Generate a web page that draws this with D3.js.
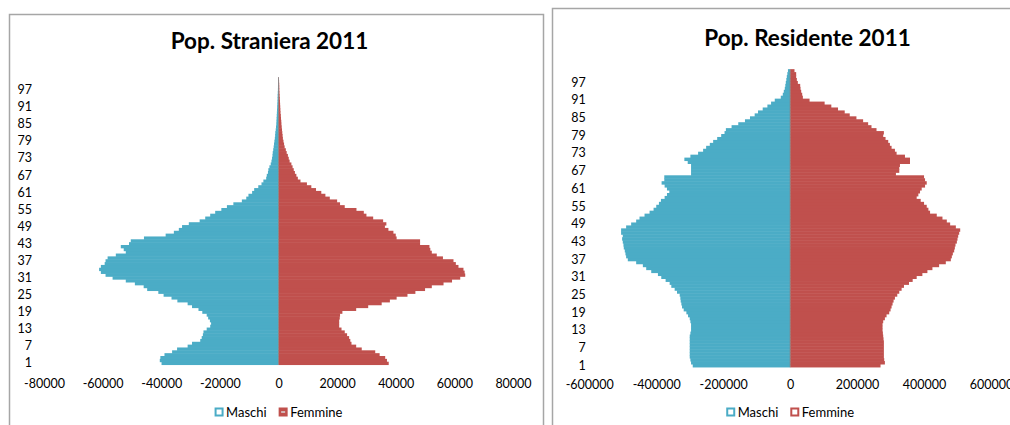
<!DOCTYPE html>
<html>
<head>
<meta charset="utf-8">
<script src="https://cdnjs.cloudflare.com/ajax/libs/d3/7.8.5/d3.min.js"></script>
<style>
body { margin: 0; background: #fff; }
svg { display: block; font-family: Lato, "Open Sans", sans-serif; }
</style>
</head>
<body>
<svg id="chart" width="1010" height="425"></svg>
<script>
// age classes 1..101, labels every 6
var ages = d3.range(1, 102);
var ageLabels = [1, 7, 13, 19, 25, 31, 37, 43, 49, 55, 61, 67, 73, 79, 85, 91, 97];
var seriesNames = ["Maschi", "Femmine"];
var colors = ["#4BACC6", "#C0504D"];

var straTicks = [-80000, -60000, -40000, -20000, 0, 20000, 40000, 60000, 80000];
var resTicks = [-600000, -400000, -200000, 0, 200000, 400000, 600000];

// Pop. Straniera 2011 (ages 1..101)
var straMaschi = [39900, 40500, 40300, 38900, 36300, 34600, 31000, 29500, 26700, 26200,
    25800, 25600, 24500, 23300, 23000, 23400, 24000, 24500, 26000, 27300,
    29500, 31000, 34500, 36500, 39200, 41000, 44800, 46000, 49000, 52100,
    56600, 59000, 60600, 61200, 60600, 59300, 59000, 58300, 55500, 52100,
    52800, 53800, 51000, 50400, 45900, 38500, 35700, 34000, 32900, 30600,
    26900, 25000, 23300, 21600, 19500, 17600, 15400, 12500, 11000, 10250,
    9000, 8300, 6900, 5800, 5160, 4200, 4000, 3600, 3460, 3100,
    2650, 2400, 2200, 2050, 1970, 1800, 1650, 1530, 1400, 1250,
    1150, 1090, 950, 850, 750, 700, 650, 600, 550, 500,
    450, 400, 350, 320, 300, 250, 200, 180, 150, 120,
    100];
var straFemmine = [37600, 37000, 36400, 34500, 33000, 28400, 26500, 24900, 24500, 24100,
    23400, 22600, 21500, 20700, 20700, 20700, 20900, 21000, 21800, 26500,
    30600, 35200, 38000, 40300, 44000, 46700, 50000, 52300, 56300, 59200,
    62000, 63700, 63500, 63100, 61400, 60500, 59700, 56100, 54000, 52300,
    51800, 51500, 48300, 48300, 40300, 40000, 39200, 37500, 36300, 36800,
    35700, 32300, 30000, 29100, 26600, 22600, 21000, 20000, 17500, 16000,
    14600, 12800, 11200, 9700, 7500, 6600, 6100, 5600, 5200, 4800,
    4400, 3800, 3500, 3200, 2800, 2500, 2100, 1900, 1700, 1500,
    1400, 1300, 1200, 1100, 1000, 950, 850, 800, 700, 650,
    600, 550, 500, 450, 400, 350, 300, 280, 250, 200,
    150];

// Pop. Residente 2011 (ages 1..101)
var resMaschi = [291000, 296000, 298000, 300000, 300000, 300000, 300000, 300000, 300000, 300000,
    300000, 298000, 296000, 296000, 296000, 298000, 300000, 305000, 310000, 318000,
    323000, 325000, 327000, 328000, 330000, 338000, 345000, 355000, 360000, 372000,
    385000, 395000, 415000, 430000, 440000, 460000, 485000, 490000, 492000, 494000,
    497000, 498000, 500000, 502000, 500000, 505000, 505000, 490000, 475000, 460000,
    450000, 435000, 420000, 408000, 400000, 392000, 386000, 375000, 368000, 361000,
    368000, 375000, 384000, 376000, 376000, 296000, 296000, 296000, 296000, 306000,
    316000, 298000, 275000, 260000, 251000, 240000, 230000, 218000, 206000, 196000,
    192000, 175000, 155000, 135000, 120000, 106000, 96000, 82000, 68000, 57000,
    46000, 28000, 22000, 19000, 16000, 14400, 13000, 11400, 10000, 8400,
    6600];
var resFemmine = [270000, 283000, 281000, 280000, 280000, 280000, 280000, 280000, 280000, 279000,
    278000, 277000, 276000, 276000, 276000, 278000, 283000, 288000, 296000, 300000,
    303000, 306000, 309000, 313000, 320000, 326000, 333000, 340000, 355000, 366000,
    378000, 395000, 410000, 425000, 445000, 465000, 480000, 483000, 486000, 490000,
    492000, 494000, 498000, 500000, 502000, 505000, 508000, 495000, 478000, 468000,
    455000, 438000, 418000, 413000, 408000, 400000, 390000, 378000, 383000, 388000,
    393000, 403000, 408000, 403000, 400000, 316000, 326000, 326000, 328000, 358000,
    358000, 343000, 318000, 313000, 303000, 298000, 293000, 285000, 278000, 280000,
    258000, 243000, 233000, 218000, 198000, 178000, 163000, 143000, 123000, 103000,
    58000, 38000, 36000, 33000, 31000, 30000, 23000, 20000, 18000, 18000,
    13000];

var svg = d3.select("#chart");

drawPyramid = function(cfg) {
    var g = svg.append("g");

    // chart frame (runs off the picture at the bottom)
    g.append("rect")
        .attr("x", cfg.frame[0])
        .attr("y", cfg.frame[1])
        .attr("width", cfg.frame[2])
        .attr("height", cfg.frame[3])
        .style("fill", "#fff")
        .style("stroke", "#a6a6a6")
        .style("stroke-width", 1.5);

    var x = d3.scaleLinear()
        .domain(cfg.domain)
        .range([cfg.left, cfg.right]);

    var y = d3.scaleBand()
        .domain(ages)
        .range([cfg.bottom, cfg.top])
        .paddingInner(0);

    // bars overlap a hair so no white seams show between ages
    var barH = y.bandwidth() + 0.5;

    g.append("text")
        .attr("x", cfg.titleX)
        .attr("y", cfg.titleY)
        .attr("text-anchor", "middle")
        .style("font-size", "22.5px")
        .style("font-weight", "bold")
        .text(cfg.title);

    g.selectAll("rect.maschi")
        .data(cfg.males).enter()
        .append("rect")
        .attr("class", "maschi")
        .attr("x", function(d) { return x(-d) })
        .attr("y", function(d, i) { return y(ages[i]) - 0.25 })
        .attr("width", function(d) { return x(0) - x(-d) })
        .attr("height", barH)
        .style("fill", colors[0]);

    g.selectAll("rect.femmine")
        .data(cfg.females).enter()
        .append("rect")
        .attr("class", "femmine")
        .attr("x", x(0))
        .attr("y", function(d, i) { return y(ages[i]) - 0.25 })
        .attr("width", function(d) { return x(d) - x(0) })
        .attr("height", barH)
        .style("fill", colors[1]);

    // category axis sits on the zero value
    g.append("line")
        .attr("x1", x(0)).attr("x2", x(0))
        .attr("y1", cfg.top).attr("y2", cfg.bottom)
        .style("stroke", "#868686")
        .style("stroke-width", 1)
        .style("opacity", 0.8);

    var xAxis = d3.axisBottom(x)
        .tickValues(cfg.ticks)
        .tickSize(0)
        .tickPadding(cfg.xPad)
        .tickFormat(function(d) { return String(d) });

    g.append("g")
        .attr("transform", "translate(0," + cfg.bottom + ")")
        .call(xAxis)
        .attr("font-family", null)
        .attr("font-size", 12.5)
        .call(function(a) { a.select(".domain").remove() });

    var yAxis = d3.axisLeft(y)
        .tickValues(ageLabels)
        .tickSize(0)
        .tickPadding(cfg.yPad);

    g.append("g")
        .attr("transform", "translate(" + cfg.left + ",0)")
        .call(yAxis)
        .attr("font-family", null)
        .attr("font-size", 12.5)
        .call(function(a) { a.select(".domain").remove() });

    // legend, centred on the zero line
    var leg = g.append("g");
    var cx = 0;
    seriesNames.forEach(function(name, i) {
        var item = leg.append("g").attr("transform", "translate(" + cx + ",0)");
        if (cfg.markers[i] == "hollow") {
            item.append("rect")
                .attr("x", 1).attr("y", -3.5)
                .attr("width", 7).attr("height", 7)
                .style("fill", "#fff")
                .style("stroke", colors[i])
                .style("stroke-width", 2);
        } else {
            item.append("rect")
                .attr("x", 0).attr("y", -4.5)
                .attr("width", 9).attr("height", 9)
                .style("fill", colors[i]);
            item.append("line")
                .attr("x1", 2.5).attr("x2", 6.5)
                .attr("y1", 0).attr("y2", 0)
                .style("stroke", "#d9d9d9")
                .style("stroke-width", 1.5);
        }
        var t = item.append("text")
            .attr("x", 11.5)
            .attr("dy", "0.36em")
            .style("font-size", "13px")
            .text(name);
        cx += 11.5 + t.node().getComputedTextLength() + 12;
    });
    var legWidth = cx - 12;
    leg.attr("transform", "translate(" + (x(0) - legWidth / 2) + "," + cfg.legendY + ")");
}

drawPyramid({
    title: "Pop. Straniera 2011",
    males: straMaschi,
    females: straFemmine,
    domain: [-80000, 80000],
    ticks: straTicks,
    frame: [9.5, 14.5, 534, 450],
    left: 44, right: 513, top: 77.3, bottom: 364.8,
    titleX: 269.5, titleY: 49,
    xPad: 14, yPad: 12,
    legendY: 412,
    markers: ["hollow", "dash"]
});

drawPyramid({
    title: "Pop. Residente 2011",
    males: resMaschi,
    females: resFemmine,
    domain: [-600000, 600000],
    ticks: resTicks,
    frame: [552.5, 8.5, 500, 450],
    left: 589.3, right: 991, top: 69.4, bottom: 367.2,
    titleX: 807.5, titleY: 46,
    xPad: 13.4, yPad: 3.5,
    legendY: 412,
    markers: ["hollow", "hollow"]
});
</script>
</body>
</html>
